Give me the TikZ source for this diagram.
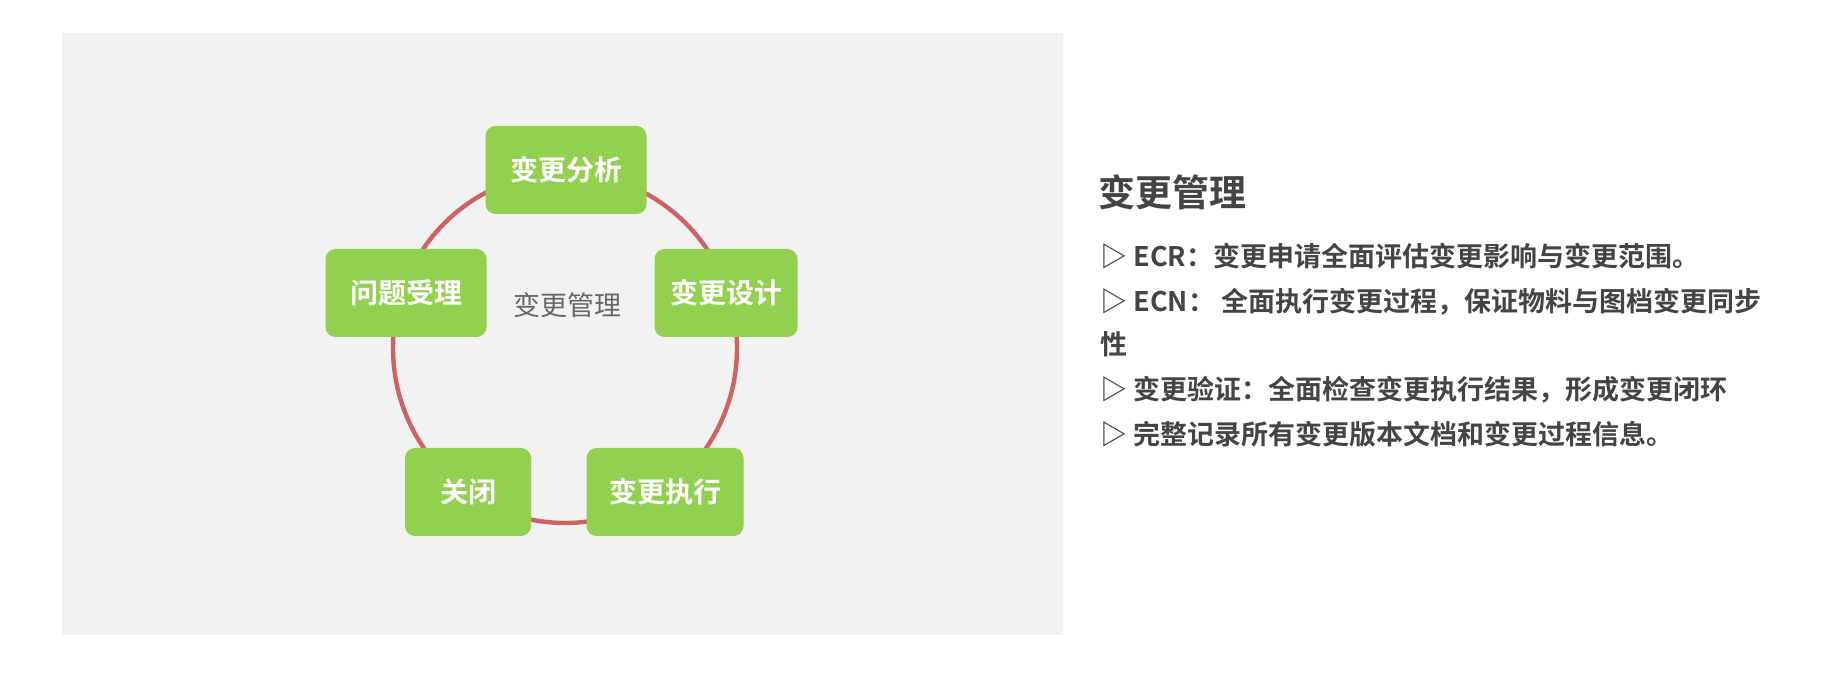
\documentclass[tikz,border=0pt]{standalone}
\usepackage{fontspec}
\setmainfont{Noto Sans CJK SC}
\newfontfamily\cjkb{Noto Sans CJK SC Bold}
\begin{document}
\begin{tikzpicture}[x=0.5pt,y=-0.5pt,
  box/.style={fill=boxgreen,rounded corners=5pt,text=white,font=\cjkb\fontsize{14}{16}\selectfont,minimum height=44pt,inner sep=0pt},
  bul/.style={anchor=base west,text=txtgray,font=\cjkb\fontsize{13.5}{15}\selectfont,inner sep=0pt}]
\definecolor{boxgreen}{HTML}{92D050}
\definecolor{ringred}{HTML}{CD6464}
\definecolor{txtgray}{HTML}{444444}
\definecolor{panel}{HTML}{F2F2F2}
\useasboundingbox (0,0) rectangle (1834,688);
\fill[panel] (62,33) rectangle (1063,635);
\draw[ringred,line width=2.2pt] (565,348) ellipse [x radius=172,y radius=175];
\node[box,minimum width=80.5pt] (a) at (566,170) {变更分析};
\node[box,minimum width=80.5pt] (q) at (406,293) {问题受理};
\node[box,minimum width=71.5pt] (d) at (726,293) {变更设计};
\node[box,minimum width=63pt] (c) at (468,492) {关闭};
\node[box,minimum width=78.5pt] (e) at (665,492) {变更执行};
\node[text=black!60,font=\fontsize{13.5}{15}\selectfont] (m) at (567,305) {变更管理};
\node[anchor=base west,text=txtgray,font=\cjkb\fontsize{18.5}{20}\selectfont,inner sep=0pt] (t) at (1098,207) {变更管理};
\node[bul] (l1) at (1100,267) {▷ ECR：变更申请全面评估变更影响与变更范围。};
\node[bul] (l2) at (1100,312) {▷ ECN： 全面执行变更过程，保证物料与图档变更同步};
\node[bul] (l3) at (1100,355) {性};
\node[bul] (l4) at (1100,400) {▷ 变更验证：全面检查变更执行结果，形成变更闭环};
\node[bul] (l5) at (1100,445) {▷ 完整记录所有变更版本文档和变更过程信息。};
\end{tikzpicture}
\end{document}
